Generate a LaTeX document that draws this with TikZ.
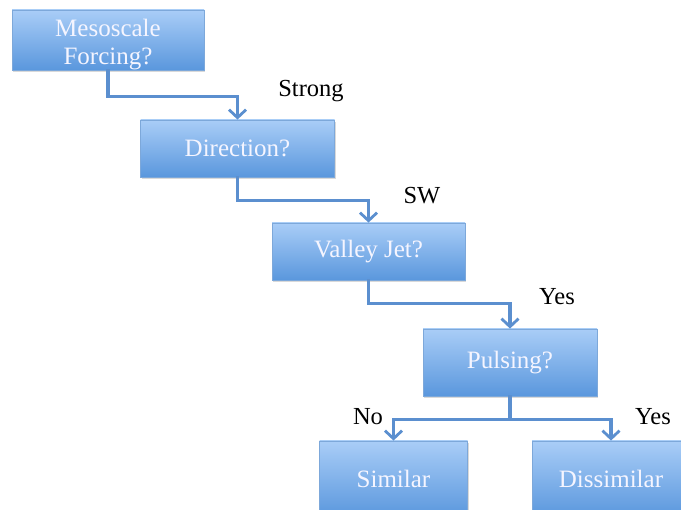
\documentclass[tikz,border=0pt]{standalone}
\usepackage{fontspec}
\setmainfont{Liberation Serif}
\usepackage{xcolor}
\usetikzlibrary{arrows.meta,shadows}
\definecolor{boxtop}{HTML}{A9CDF7}
\definecolor{boxbot}{HTML}{5A97DD}
\definecolor{boxline}{HTML}{7DA8DA}
\definecolor{linkcol}{HTML}{5B8FCF}
\begin{document}
\begin{tikzpicture}[x=1pt,y=-1pt,
                    box/.style={draw=boxline,line width=0.8pt,top color=boxtop,bottom color=boxbot,
                                text=white!96!blue,align=center,inner sep=0pt,
                                font=\fontsize{25}{27.5}\selectfont,
                                drop shadow={shadow xshift=1pt,shadow yshift=-2pt,opacity=.3}},
                    tag/.style={font=\fontsize{24.5}{27}\selectfont,inner sep=0pt},
                    link/.style={draw=linkcol,line width=3.3pt,line cap=rect,
                                 -{Straight Barb[length=8pt,width=17pt,line width=2.8pt]}}]
                    \useasboundingbox (0,0) rectangle (681,510);
                    \clip (0,0) rectangle (681,510);
                    \node[box,minimum width=192pt,minimum height=60pt] (forcing) at (108,40) {\rule{0pt}{26pt}Mesoscale\\Forcing?};
                    \node[box,minimum width=194pt,minimum height=57pt] (direction) at (237.5,148.5) {Direction?};
                    \node[box,minimum width=193pt,minimum height=57pt] (valleyjet) at (368.5,251.5) {Valley Jet?};
                    \node[box,minimum width=174pt,minimum height=67pt] (pulsing) at (510,362.5) {Pulsing?};
                    \node[box,minimum width=148pt,minimum height=76pt] (similar) at (393.5,479) {Similar};
                    \node[box,minimum width=158pt,minimum height=76pt] (dissimilar) at (611,479) {Dissimilar};
                    \draw[link] (forcing.south) -- ++(0,26) -| (direction.north);
                    \draw[link] (direction.south) -- ++(0,23) -| (valleyjet.north);
                    \draw[link] (valleyjet.south) -- ++(0,23) -| (pulsing.north);
                    \draw[link] (pulsing.south) -- ++(0,23) coordinate (split) -| (similar.north);
                    \draw[link] (split) -| (dissimilar.north);
                    \node[tag] (strong) at (311,91) {Strong};
                    \node[tag] (sw) at (422,196) {SW};
                    \node[tag] (yesjet) at (557,297) {Yes};
                    \node[tag] (no) at (368,417) {No};
                    \node[tag] (yespulse) at (653,417) {Yes};
                \end{tikzpicture}
\end{document}
